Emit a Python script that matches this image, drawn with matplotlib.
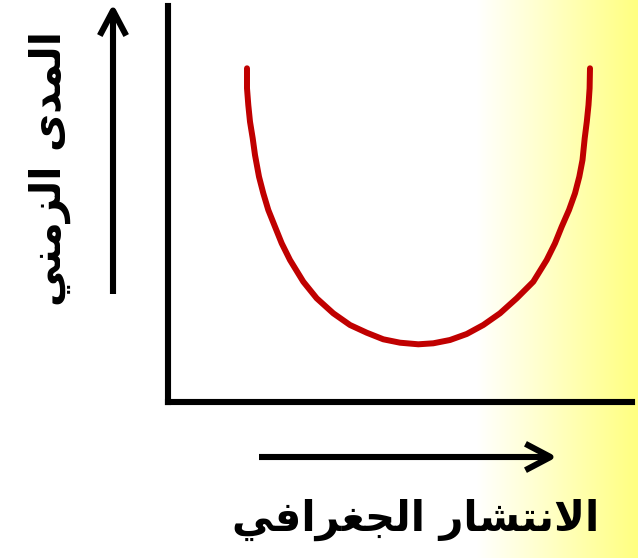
import numpy as np
import matplotlib
matplotlib.use("Agg")
import matplotlib.pyplot as plt
from matplotlib.patches import FancyArrowPatch

plt.rcParams['font.family'] = ['DejaVu Sans']

# U-shaped relation: time range against geographic spread
spread = [79.0, 79.0, 80.3, 82.0, 84.7, 87.0, 91.0, 95.3, 100.3, 107.0,
          113.7, 122.0, 135.3, 148.7, 165.3, 182.0, 198.7, 215.3, 232.0, 250.3,
          265.3, 282.0, 298.7, 315.3, 332.0, 348.7, 365.3, 378.7, 387.0, 393.7,
          401.0, 407.0, 411.3, 414.5, 416.7, 418.8, 420.5, 421.6, 422.0]
time_range = [333.7, 313.7, 297.0, 280.3, 263.7, 247.0, 225.3, 208.7, 192.0, 175.3,
              158.7, 142.0, 120.3, 103.7, 88.7, 77.0, 69.3, 62.7, 59.3, 57.7,
              58.7, 62.0, 68.0, 77.0, 88.7, 103.7, 120.3, 142.0, 158.7, 175.3,
              192.0, 208.7, 225.3, 242.0, 263.7, 280.3, 297.0, 313.7, 333.7]

# Arabic labels written in presentation forms, visual order
xlabel_text = "ﻲﻓﺍﺮﻐﺠﻟﺍ ﺭﺎﺸﺘﻧﻻﺍ"   # الانتشار الجغرافي
ylabel_text = "ﻲﻨﻣﺰﻟﺍ ﻯﺪﻤﻟﺍ"          # المدى الزمني

W, H = 638, 558
fig = plt.figure(figsize=(W / 100, H / 100), dpi=100)
fig.patch.set_facecolor("white")

# soft yellow band fading in toward the right edge
bg = fig.add_axes([0, 0, 1, 1], zorder=-10)
bg.set_axis_off()
cols = np.arange(W) + 0.5
t = np.clip((cols - 477) / (W - 477), 0, 1)
white = np.array([1.0, 1.0, 1.0])
yellow = np.array([1.0, 1.0, 128 / 255])
grad = white[None, :] * (1 - t[:, None]) + yellow[None, :] * t[:, None]
bg.imshow(grad[None, :, :], aspect="auto", extent=[0, 1, 0, 1],
          interpolation="nearest")
bg.set_xlim(0, 1)
bg.set_ylim(0, 1)

# main plot frame
x0, x1 = 168, 632
y0, y1 = 402, 6
ax = fig.add_axes([x0 / W, (H - y0) / H, (x1 - x0) / W, (y0 - y1) / H])
ax.patch.set_alpha(0)
ax.set_xlim(0, x1 - x0)
ax.set_ylim(0, y0 - y1)
for side in ("top", "right"):
    ax.spines[side].set_visible(False)
for side in ("left", "bottom"):
    ax.spines[side].set_linewidth(4.4)
    ax.spines[side].set_color("black")
    ax.spines[side].set_capstyle("projecting")
ax.set_xticks([])
ax.set_yticks([])

ax.plot(spread, time_range, color="#C00000", lw=4.3,
        solid_capstyle="round", solid_joinstyle="round", clip_on=False)

# direction arrows
arrow_kw = dict(arrowstyle="->,head_length=1.8,head_width=0.95",
                lw=4.4, color="black", shrinkA=0, shrinkB=0,
                mutation_scale=10, capstyle="butt")
fig.add_artist(FancyArrowPatch(
    (113 / W, (H - 294) / H), (113 / W, (H - 4) / H),
    transform=fig.transFigure, **arrow_kw))
fig.add_artist(FancyArrowPatch(
    (259 / W, (H - 457) / H), (557 / W, (H - 457) / H),
    transform=fig.transFigure, **arrow_kw))

fig.text(416 / W, (H - 520) / H, xlabel_text, fontsize=30, fontweight="bold",
         ha="center", va="center")
fig.text(50 / W, (H - 169) / H, ylabel_text, fontsize=30, fontweight="bold",
         ha="center", va="center", rotation=90)

fig.savefig("out.png", dpi=100)
